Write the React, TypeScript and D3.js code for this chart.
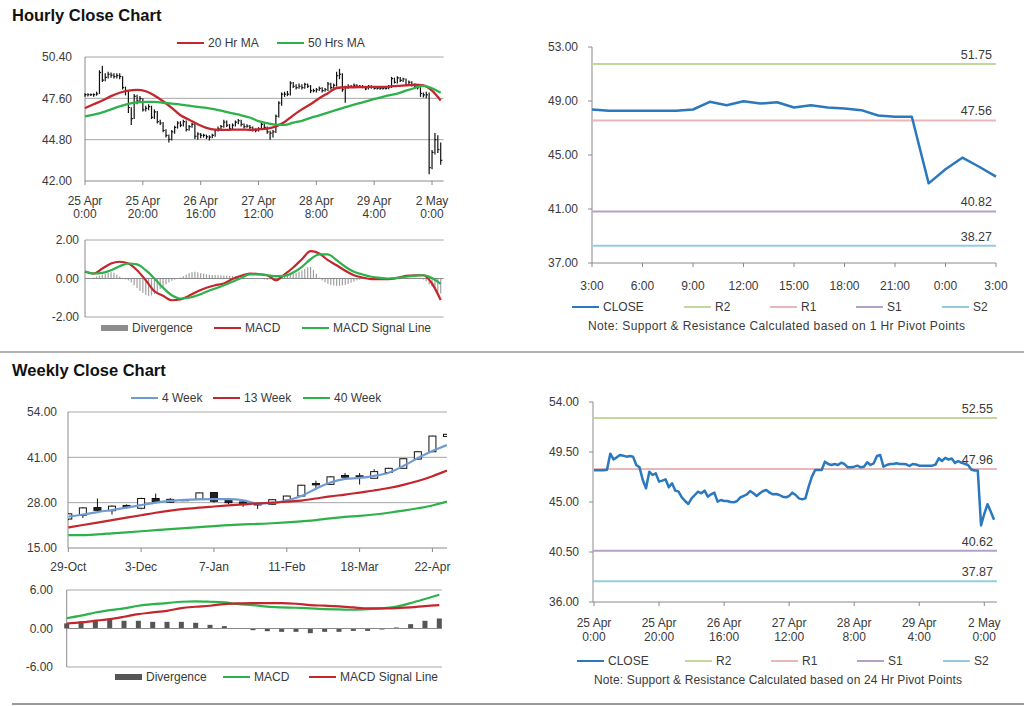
import React from 'react';
import * as d3 from 'd3';

// ---------- Hourly data (index = hour from 25 Apr 0:00) ----------
const hourlyClose = [
  47.85, 47.85, 47.85, 47.85, 47.9, 49.35, 48.84, 49.02, 49.23, 49.17,
  49.08, 49.14, 49.08, 48.33, 48.12, 46.98, 46.23, 47.73, 47.43, 47.58,
  46.83, 46.92, 47.04, 46.32, 46.68, 46.02, 45.93, 45.42, 45.09, 44.82,
  45.33, 45.63, 45.93, 45.78, 46.02, 45.48, 45.69, 45.84, 45.03, 45.18,
  45.09, 45.09, 45.0, 44.97, 45.09, 45.42, 45.54, 45.69, 45.99, 45.78,
  45.54, 45.78, 45.99, 46.08, 45.84, 45.69, 45.72, 45.63, 45.48, 45.42,
  45.54, 45.84, 45.63, 45.33, 45.24, 45.33, 46.38, 47.28, 47.88, 47.88,
  47.88, 48.63, 48.42, 48.33, 48.42, 48.33, 48.54, 48.42, 48.12, 48.12,
  48.18, 48.27, 48.12, 48.18, 48.57, 48.33, 48.48, 49.14, 49.23, 48.18,
  48.33, 48.42, 48.42, 48.48, 48.42, 48.42, 48.39, 48.24, 48.42, 48.37,
  48.27, 48.27, 48.27, 48.27, 48.27, 48.37, 48.94, 48.69, 48.98, 48.81,
  48.91, 48.52, 48.69, 48.52, 48.44, 48.32, 47.93, 47.83, 47.83, 42.9,
  43.94, 44.8, 44.13, 43.4,
];
const hourlyHigh = [
  47.95, 47.95, 47.92, 47.95, 48.05, 49.5, 49.8, 49.3, 49.4, 49.35,
  49.3, 49.3, 49.3, 49.1, 48.4, 48.1, 47.0, 47.9, 47.85, 47.75,
  47.6, 47.1, 47.2, 47.1, 46.85, 46.75, 46.15, 46.0, 45.5, 45.15,
  45.45, 45.75, 46.05, 46.05, 46.15, 46.1, 45.8, 45.95, 45.9, 45.3,
  45.25, 45.2, 45.15, 45.1, 45.2, 45.5, 45.7, 45.8, 46.15, 46.1,
  45.85, 45.9, 46.1, 46.2, 46.15, 45.9, 45.85, 45.8, 45.7, 45.55,
  45.65, 45.95, 45.9, 45.7, 45.4, 45.45, 46.5, 47.4, 48.0, 48.05,
  48.1, 48.75, 48.7, 48.55, 48.6, 48.55, 48.65, 48.6, 48.5, 48.25,
  48.3, 48.4, 48.35, 48.3, 48.7, 48.65, 48.6, 49.4, 49.6, 49.3,
  48.45, 48.55, 48.5, 48.6, 48.55, 48.5, 48.5, 48.45, 48.5, 48.48,
  48.4, 48.35, 48.35, 48.35, 48.38, 48.5, 49.05, 49.0, 49.1, 49.05,
  49.0, 48.95, 48.8, 48.75, 48.6, 48.5, 48.35, 48.0, 48.05, 48.0,
  44.1, 45.25, 45.1, 44.6,
];
const hourlyLow = [
  47.7, 47.72, 47.75, 47.7, 47.78, 47.9, 48.7, 48.75, 48.95, 49.0,
  48.95, 48.95, 48.9, 48.2, 47.8, 46.6, 45.8, 46.2, 47.2, 47.3,
  46.7, 46.7, 46.8, 46.2, 46.2, 45.9, 45.8, 45.3, 44.95, 44.6,
  44.75, 45.2, 45.55, 45.65, 45.7, 45.35, 45.4, 45.6, 44.85, 44.8,
  44.9, 44.95, 44.85, 44.75, 44.9, 45.0, 45.35, 45.5, 45.6, 45.65,
  45.4, 45.45, 45.7, 45.85, 45.7, 45.55, 45.6, 45.5, 45.35, 45.3,
  45.35, 45.45, 45.5, 45.2, 44.8, 44.95, 45.25, 46.3, 47.1, 47.7,
  47.75, 47.8, 48.3, 48.2, 48.25, 48.2, 48.25, 48.3, 47.95, 48.0,
  48.0, 48.1, 48.0, 48.05, 48.1, 48.2, 48.25, 48.4, 48.9, 48.05,
  47.3, 48.25, 48.3, 48.35, 48.3, 48.3, 48.28, 48.15, 48.2, 48.25,
  48.2, 48.2, 48.18, 48.2, 48.2, 48.22, 48.3, 48.6, 48.6, 48.7,
  48.7, 48.45, 48.45, 48.4, 48.35, 48.2, 47.7, 47.65, 47.6, 42.45,
  42.8, 43.8, 43.9, 43.1,
];
// moving averages / MACD sampled every 3 hours (0, 3, ..., 123)
const hourlySampleStep = 3;
const ma20Hr = [
  46.94, 47.2, 47.45, 47.75, 47.98, 48.12, 48.17, 48.08, 47.8, 47.4,
  46.95, 46.45, 46.15, 45.85, 45.6, 45.48, 45.46, 45.48, 45.48, 45.47,
  45.5, 45.55, 45.7, 46.0, 46.45, 46.85, 47.2, 47.6, 47.95, 48.3,
  48.35, 48.35, 48.36, 48.37, 48.38, 48.4, 48.45, 48.48, 48.52, 48.48,
  48.12, 47.45,
];
const ma50Hr = [
  46.37, 46.5, 46.65, 46.85, 47.05, 47.22, 47.33, 47.36, 47.36, 47.3,
  47.24, 47.18, 47.1, 47.02, 46.95, 46.85, 46.72, 46.58, 46.45, 46.3,
  46.05, 45.92, 45.82, 45.8, 45.95, 46.08, 46.28, 46.45, 46.63, 46.82,
  47.0, 47.18, 47.33, 47.5, 47.65, 47.8, 47.92, 48.12, 48.3, 48.45,
  48.28, 47.98,
];
const hourlyMacd = [
  0.35, 0.26, 0.52, 0.78, 0.87, 0.78, 0.43, -0.09, -0.66, -0.9,
  -1.13, -1.09, -0.9, -0.66, -0.48, -0.35, -0.26, -0.03, 0.14, 0.26,
  0.23, 0.17, -0.09, 0.21, 0.57, 1.0, 1.42, 1.3, 0.95, 0.69,
  0.4, 0.17, 0.05, -0.03, -0.03, -0.03, 0.03, 0.14, 0.17, 0.17,
  -0.26, -1.12,
];
const hourlySignal = [
  0.38, 0.26, 0.29, 0.43, 0.64, 0.78, 0.73, 0.43, 0.0, -0.48,
  -0.87, -1.04, -1.0, -0.87, -0.69, -0.52, -0.35, -0.17, 0.03, 0.21,
  0.21, 0.17, 0.12, 0.14, 0.31, 0.61, 1.0, 1.25, 1.25, 0.95,
  0.61, 0.35, 0.21, 0.09, 0.03, 0.0, 0.03, 0.09, 0.14, 0.17,
  0.03, -0.28,
];
const hourlyDivergence = [
  0.02, -0.02, 0.0, 0.05, 0.1, 0.15, 0.2, 0.25, 0.3, 0.33,
  0.3, 0.2, 0.1, 0.02, -0.05, -0.1, -0.2, -0.35, -0.5, -0.65,
  -0.75, -0.85, -0.9, -0.88, -0.8, -0.7, -0.55, -0.42, -0.3, -0.2,
  -0.12, -0.06, -0.02, 0.05, 0.12, 0.2, 0.28, 0.33, 0.35, 0.32,
  0.28, 0.25, 0.22, 0.2, 0.18, 0.18, 0.17, 0.16, 0.15, 0.15,
  0.14, 0.13, 0.12, 0.1, 0.08, 0.06, 0.04, 0.02, -0.02, -0.03,
  -0.02, 0.0, -0.05, -0.08, -0.05, 0.02, 0.05, 0.08, 0.1, 0.12,
  0.15, 0.2, 0.25, 0.3, 0.35, 0.42, 0.5, 0.58, 0.6, 0.45,
  0.25, 0.05, -0.1, -0.2, -0.28, -0.33, -0.36, -0.38, -0.38, -0.36,
  -0.33, -0.28, -0.22, -0.16, -0.1, -0.06, -0.03, -0.02, -0.01, 0.0,
  0.01, 0.01, 0.0, 0.0, 0.01, 0.02, 0.03, 0.04, 0.04, 0.03,
  0.02, 0.01, 0.0, 0.0, 0.0, 0.0, 0.0, -0.05, -0.15, -0.3,
  -0.42, -0.55, -0.68, -0.78,
];
const hourlyTickIndex = [0, 20, 40, 60, 80, 100, 120];
const hourlyTickDay = ['25 Apr', '25 Apr', '26 Apr', '27 Apr', '28 Apr', '29 Apr', '2 May'];
const hourlyTickTime = ['0:00', '20:00', '16:00', '12:00', '8:00', '4:00', '0:00'];
const hourlyPriceTicks = [42.0, 44.8, 47.6, 50.4];
const hourlyMacdTicks = [-2, 0, 2];

// last 24 hours (1 Hr pivot chart)
const lastDayStart = 99;
const lastDayLabels = ['3:00', '6:00', '9:00', '12:00', '15:00', '18:00', '21:00', '0:00', '3:00'];
const lastDayTicks = [37, 41, 45, 49, 53];
const pivotNames = ['R2', 'R1', 'S1', 'S2'];
const pivotColors = ['#c3d69b', '#e6b9b8', '#b3a2c7', '#93cddd'];
const pivot1Hr = [51.75, 47.56, 40.82, 38.27];
const pivot24Hr = [52.55, 47.96, 40.62, 37.87];
const fiveDayTicks = [36, 40.5, 45, 49.5, 54];

// ---------- Weekly data ----------
const weekLabels = ['29-Oct', '3-Dec', '7-Jan', '11-Feb', '18-Mar', '22-Apr'];
const weekLabelIndex = [0, 5, 10, 15, 20, 25];
const weeklyOpen = [23.3, 24.4, 26.6, 25.7, 27.2, 26.4, 29.2, 28.1, 28.85, 29.0, 30.9, 28.6, 28.2, 27.7, 27.55, 28.7, 29.9, 33.5, 33.25, 35.8, 35.7, 35.0, 36.65, 37.85, 40.5, 42.6, 47.0];
const weeklyClose = [24.8, 26.5, 25.8, 27.0, 26.6, 29.2, 28.2, 28.95, 28.9, 30.8, 28.4, 28.0, 27.7, 27.35, 28.85, 29.9, 33.0, 33.1, 35.4, 35.3, 35.3, 36.9, 37.85, 40.6, 42.6, 47.1, 47.6];
const weeklyHigh = [25.0, 26.7, 29.2, 27.2, 27.5, 29.4, 30.6, 29.3, 29.0, 30.9, 31.0, 29.0, 28.6, 27.8, 29.0, 30.0, 33.1, 34.3, 35.5, 36.5, 36.5, 37.6, 38.0, 40.7, 42.7, 47.2, 47.7];
const weeklyLow = [23.0, 23.6, 25.4, 24.6, 26.3, 26.1, 27.9, 28.0, 28.7, 28.9, 28.0, 27.6, 26.8, 26.2, 27.4, 28.6, 29.8, 31.6, 33.1, 34.6, 33.2, 34.9, 36.5, 37.8, 40.4, 42.5, 46.9];
const ma4Week = [24.0, 24.6, 25.3, 25.9, 26.6, 27.3, 28.0, 28.5, 28.8, 28.95, 29.0, 29.0, 28.7, 27.7, 27.9, 28.6, 29.9, 32.0, 33.8, 34.8, 35.1, 35.7, 36.6, 38.5, 40.8, 42.8, 44.5];
const ma13Week = [20.9, 21.6, 22.3, 23.0, 23.7, 24.4, 25.1, 25.7, 26.2, 26.6, 26.9, 27.2, 27.5, 27.8, 28.0, 28.3, 28.6, 29.2, 29.8, 30.3, 30.9, 31.5, 32.2, 33.1, 34.2, 35.6, 37.2];
const ma40Week = [18.7, 18.7, 18.9, 19.2, 19.5, 19.8, 20.1, 20.4, 20.7, 21.0, 21.3, 21.55, 21.8, 21.9, 22.1, 22.35, 22.65, 23.0, 23.5, 23.9, 24.2, 24.6, 25.1, 25.7, 26.4, 27.2, 28.3];
const weeklyMacd = [1.6, 2.0, 2.5, 2.87, 3.13, 3.55, 3.8, 3.96, 4.17, 4.23, 4.17, 4.07, 3.8, 3.65, 3.4, 3.29, 3.23, 3.13, 3.03, 2.97, 2.92, 3.03, 3.13, 3.4, 3.96, 4.6, 5.27];
const weeklySignal = [0.78, 0.94, 1.2, 1.46, 1.83, 2.24, 2.5, 2.76, 3.18, 3.39, 3.55, 3.8, 3.91, 3.96, 3.96, 3.96, 3.86, 3.65, 3.55, 3.44, 3.29, 3.13, 3.13, 3.18, 3.29, 3.5, 3.65];
const weeklyDivergence = [0.8, 1.1, 1.36, 1.46, 1.2, 1.2, 1.04, 1.04, 1.04, 0.89, 0.57, 0.37, 0.05, -0.26, -0.42, -0.52, -0.52, -0.73, -0.52, -0.52, -0.37, -0.37, -0.16, 0.16, 0.68, 1.2, 1.56];
const weeklyPriceTicks = [15, 28, 41, 54];
const weeklyMacdTicks = [-6, 0, 6];

// ---------- styling ----------
const FONT = '"Liberation Sans", Arial, sans-serif';
const TXT = '#3a3a3a';
const GRID = '#a6a6a6';
const AXIS = '#8a8a8a';
const RED = '#c4262e';
const GREEN = '#2db14b';
const BLUE = '#2a78bd';
const LIGHTBLUE = '#6f9bd3';

type LegendItem = { label: string; color: string; x: number; box?: boolean };

function Legend({ items, y }: { items: LegendItem[]; y: number }) {
  return (
    <g>
      {items.map((it, k) => (
        <g key={k}>
          {it.box ? (
            <rect x={it.x} y={y - 3} width={27} height={6} fill={it.color} />
          ) : (
            <line x1={it.x} x2={it.x + 27} y1={y} y2={y} stroke={it.color} strokeWidth={2} />
          )}
          <text x={it.x + 31} y={y} dy="0.35em" fontSize={12} fill={TXT}>{it.label}</text>
        </g>
      ))}
    </g>
  );
}

function YLabels({ ticks, y, x, fmt }: { ticks: number[]; y: d3.ScaleLinear<number, number>; x: number; fmt: (v: number) => string }) {
  return (
    <g>
      {ticks.map((t, k) => (
        <text key={k} x={x} y={y(t)} dy="0.35em" textAnchor="end" fontSize={12} fill={TXT}>{fmt(t)}</text>
      ))}
    </g>
  );
}

const fmt2 = (v: number) => v.toFixed(2);

export default function App() {
  // ---------- Hourly price panel ----------
  const hx = d3.scaleLinear().domain([0, 124]).range([85, 443.6]);
  const hy = d3.scaleLinear().domain([42, 50.4]).range([181, 57]);
  const sampledLine = (yS: d3.ScaleLinear<number, number>, xS: d3.ScaleLinear<number, number>, step: number) =>
    d3.line<number>().x((_, i) => xS(i * step)).y((d) => yS(d)).curve(d3.curveMonotoneX);
  const hMaLine = sampledLine(hy, hx, hourlySampleStep);

  // ---------- Hourly MACD ----------
  const my = d3.scaleLinear().domain([-2, 2]).range([317, 240]);
  const mLine = sampledLine(my, hx, hourlySampleStep);

  // ---------- 1 Hr pivot ----------
  const lastDay = hourlyClose.slice(lastDayStart);
  const p2x = d3.scaleLinear().domain([0, 24]).range([592, 996]);
  const p2y = d3.scaleLinear().domain([37, 53]).range([263, 47]);
  const p2line = d3.line<number>().x((_, i) => p2x(i)).y((d) => p2y(d));

  // ---------- 24 Hr pivot ----------
  const p4x = d3.scaleLinear().domain([0, 124]).range([594, 997.3]);
  const p4y = d3.scaleLinear().domain([36, 54]).range([602, 402]);
  const p4line = d3.line<number>().x((_, i) => p4x(i)).y((d) => p4y(d));

  // ---------- Weekly price ----------
  const wx = d3.scaleLinear().domain([0, 26]).range([68.3, 447]);
  const wy = d3.scaleLinear().domain([15, 54]).range([548, 412]);
  const wLine = d3.line<number>().x((_, i) => wx(i)).y((d) => wy(d)).curve(d3.curveMonotoneX);

  // ---------- Weekly MACD ----------
  const wmx = d3.scaleLinear().domain([0, 26]).range([66.7, 439.3]);
  const wmy = d3.scaleLinear().domain([-6, 6]).range([667, 590]);
  const wmLine = d3.line<number>().x((_, i) => wmx(i)).y((d) => wmy(d)).curve(d3.curveMonotoneX);

  const pivotPanel = (
    yS: d3.ScaleLinear<number, number>,
    levels: number[],
    x0: number,
    x1: number
  ) =>
    levels.map((lv, k) => (
      <g key={k}>
        <line x1={x0} x2={x1} y1={yS(lv)} y2={yS(lv)} stroke={pivotColors[k]} strokeWidth={2} />
        <text x={x1 - 4} y={yS(lv) - 5} textAnchor="end" fontSize={12.5} fill={TXT}>{fmt2(lv)}</text>
      </g>
    ));

  return (
    <svg width={1024} height={706} style={{ position: 'absolute', left: 0, top: 0, display: 'block' }} fontFamily={FONT}>
      <rect width={1024} height={706} fill="#ffffff" />
      <defs>
        <clipPath id="wclip"><rect x={68} y={400} width={379} height={160} /></clipPath>
      </defs>

      {/* Titles & separators */}
      <text x={12} y={21} fontSize={16.5} fontWeight="bold" fill="#111">Hourly Close Chart</text>
      <text x={12} y={376} fontSize={16.5} fontWeight="bold" fill="#111">Weekly Close Chart</text>
      <line x1={0} x2={1024} y1={352} y2={352} stroke="#9a9a9a" strokeWidth={1.5} />
      <line x1={12} x2={1024} y1={704} y2={704} stroke="#9a9a9a" strokeWidth={2} />

      {/* ===== Panel 1: hourly price ===== */}
      <Legend y={43} items={[{ label: '20 Hr MA', color: RED, x: 177 }, { label: '50 Hrs MA', color: GREEN, x: 277 }]} />
      {hourlyPriceTicks.slice(1).map((t, k) => (
        <line key={k} x1={85} x2={443.6} y1={hy(t)} y2={hy(t)} stroke={GRID} strokeWidth={1} />
      ))}
      <line x1={85} x2={85} y1={57} y2={181} stroke={AXIS} />
      <line x1={85} x2={443.6} y1={181} y2={181} stroke={AXIS} />
      {hourlyTickIndex.map((t, k) => (
        <g key={k}>
          <line x1={hx(t)} x2={hx(t)} y1={181} y2={185} stroke={AXIS} />
          <text x={hx(t)} y={205} textAnchor="middle" fontSize={12} fill={TXT}>{hourlyTickDay[k]}</text>
          <text x={hx(t)} y={218} textAnchor="middle" fontSize={12} fill={TXT}>{hourlyTickTime[k]}</text>
        </g>
      ))}
      <YLabels ticks={hourlyPriceTicks} y={hy} x={72} fmt={fmt2} />
      {hourlyClose.map((c, i) => (
        <g key={i} stroke="#111" strokeWidth={1.2}>
          <line x1={hx(i)} x2={hx(i)} y1={hy(hourlyHigh[i])} y2={hy(hourlyLow[i])} />
          <line x1={hx(i)} x2={hx(i) + 1.6} y1={hy(c)} y2={hy(c)} />
        </g>
      ))}
      <path d={hMaLine(ma20Hr) || ''} fill="none" stroke={RED} strokeWidth={2.3} />
      <path d={hMaLine(ma50Hr) || ''} fill="none" stroke={GREEN} strokeWidth={2.3} />

      {/* ===== Hourly MACD ===== */}
      <line x1={85} x2={443.6} y1={my(2)} y2={my(2)} stroke={GRID} />
      <line x1={85} x2={443.6} y1={my(-2)} y2={my(-2)} stroke={GRID} />
      <line x1={85} x2={85} y1={my(2)} y2={my(-2)} stroke={AXIS} />
      {hourlyDivergence.map((d, i) => (
        <rect key={i} x={hx(i) - 0.6} width={1.2} y={Math.min(my(0), my(d))} height={Math.abs(my(d) - my(0))} fill="#a0a0a0" />
      ))}
      <line x1={85} x2={443.6} y1={my(0)} y2={my(0)} stroke={AXIS} />
      <path d={mLine(hourlyMacd) || ''} fill="none" stroke={RED} strokeWidth={2.2} />
      <path d={mLine(hourlySignal) || ''} fill="none" stroke={GREEN} strokeWidth={2.2} />
      <YLabels ticks={hourlyMacdTicks} y={my} x={79} fmt={fmt2} />
      <Legend y={328} items={[
        { label: 'Divergence', color: '#8c8c8c', x: 101, box: true },
        { label: 'MACD', color: RED, x: 214 },
        { label: 'MACD Signal Line', color: GREEN, x: 302 },
      ]} />

      {/* ===== Panel 2: 1 Hr pivot ===== */}
      <line x1={592} x2={592} y1={47} y2={263} stroke={AXIS} />
      {lastDayTicks.map((t, k) => (
        <line key={k} x1={588} x2={592} y1={p2y(t)} y2={p2y(t)} stroke={AXIS} />
      ))}
      {pivotPanel(p2y, pivot1Hr, 592, 996)}
      <line x1={592} x2={996} y1={263} y2={263} stroke={AXIS} />
      {lastDayLabels.map((l, k) => (
        <g key={k}>
          <line x1={p2x(k * 3)} x2={p2x(k * 3)} y1={263} y2={267} stroke={AXIS} />
          <text x={p2x(k * 3)} y={290} textAnchor="middle" fontSize={12} fill={TXT}>{l}</text>
        </g>
      ))}
      <YLabels ticks={lastDayTicks} y={p2y} x={578} fmt={fmt2} />
      <path d={p2line(lastDay) || ''} fill="none" stroke={BLUE} strokeWidth={2.5} strokeLinejoin="round" />
      <Legend y={307} items={[
        { label: 'CLOSE', color: BLUE, x: 572 },
        ...pivotNames.map((n, k) => ({ label: n, color: pivotColors[k], x: 684 + k * 86 })),
      ]} />
      <text x={588} y={330} fontSize={12} fill={TXT} textLength={377} lengthAdjust="spacing">Note: Support &amp; Resistance Calculated based on 1 Hr Pivot Points</text>

      {/* ===== Panel 3: weekly price ===== */}
      <Legend y={398} items={[
        { label: '4 Week', color: LIGHTBLUE, x: 131 },
        { label: '13 Week', color: RED, x: 213 },
        { label: '40 Week', color: GREEN, x: 303 },
      ]} />
      {weeklyPriceTicks.slice(1).map((t, k) => (
        <line key={k} x1={68} x2={447} y1={wy(t)} y2={wy(t)} stroke={GRID} />
      ))}
      <line x1={68} x2={68} y1={412} y2={548} stroke={AXIS} />
      <line x1={68} x2={447} y1={548} y2={548} stroke={AXIS} />
      {weekLabelIndex.map((t, k) => (
        <g key={k}>
          <line x1={wx(t)} x2={wx(t)} y1={548} y2={552} stroke={AXIS} />
          <text x={wx(t)} y={571} textAnchor="middle" fontSize={12} fill={TXT}>{weekLabels[k]}</text>
        </g>
      ))}
      <YLabels ticks={weeklyPriceTicks} y={wy} x={57} fmt={fmt2} />
      <g clipPath="url(#wclip)">
        {weeklyClose.map((c, i) => {
          const o = weeklyOpen[i];
          const up = c >= o;
          const top = wy(Math.max(o, c));
          const h = Math.max(1.2, Math.abs(wy(o) - wy(c)));
          return (
            <g key={i}>
              <line x1={wx(i)} x2={wx(i)} y1={wy(weeklyHigh[i])} y2={wy(weeklyLow[i])} stroke="#111" strokeWidth={1} />
              <rect x={wx(i) - 3.5} y={top} width={7} height={h} fill={up ? '#fff' : '#222'} stroke="#111" strokeWidth={1} />
            </g>
          );
        })}
        <path d={wLine(ma4Week) || ''} fill="none" stroke={LIGHTBLUE} strokeWidth={2.2} />
        <path d={wLine(ma13Week) || ''} fill="none" stroke={RED} strokeWidth={2.2} />
        <path d={wLine(ma40Week) || ''} fill="none" stroke={GREEN} strokeWidth={2.2} />
      </g>

      {/* ===== Weekly MACD ===== */}
      <line x1={66.7} x2={442} y1={wmy(6)} y2={wmy(6)} stroke={GRID} />
      <line x1={66.7} x2={442} y1={wmy(-6)} y2={wmy(-6)} stroke={GRID} />
      <line x1={66.7} x2={66.7} y1={wmy(6)} y2={wmy(-6)} stroke={AXIS} />
      {weeklyDivergence.map((d, i) => (
        <rect key={i} x={wmx(i) - 2.5} width={5} y={Math.min(wmy(0), wmy(d))} height={Math.abs(wmy(d) - wmy(0))} fill="#555" />
      ))}
      <line x1={66.7} x2={442} y1={wmy(0)} y2={wmy(0)} stroke={AXIS} />
      <path d={wmLine(weeklyMacd) || ''} fill="none" stroke={GREEN} strokeWidth={2.2} />
      <path d={wmLine(weeklySignal) || ''} fill="none" stroke={RED} strokeWidth={2.2} />
      <YLabels ticks={weeklyMacdTicks} y={wmy} x={53} fmt={fmt2} />
      <Legend y={677} items={[
        { label: 'Divergence', color: '#555', x: 115, box: true },
        { label: 'MACD', color: GREEN, x: 223 },
        { label: 'MACD Signal Line', color: RED, x: 309 },
      ]} />

      {/* ===== Panel 4: 24 Hr pivot ===== */}
      <line x1={593} x2={593} y1={402} y2={602} stroke={AXIS} />
      {fiveDayTicks.map((t, k) => (
        <line key={k} x1={589} x2={593} y1={p4y(t)} y2={p4y(t)} stroke={AXIS} />
      ))}
      {pivotPanel(p4y, pivot24Hr, 593, 997)}
      <line x1={593} x2={997} y1={602} y2={602} stroke={AXIS} />
      {hourlyTickIndex.map((t, k) => (
        <g key={k}>
          <line x1={p4x(t)} x2={p4x(t)} y1={602} y2={606} stroke={AXIS} />
          <text x={p4x(t)} y={627} textAnchor="middle" fontSize={12} fill={TXT}>{hourlyTickDay[k]}</text>
          <text x={p4x(t)} y={641} textAnchor="middle" fontSize={12} fill={TXT}>{hourlyTickTime[k]}</text>
        </g>
      ))}
      <YLabels ticks={fiveDayTicks} y={p4y} x={579} fmt={fmt2} />
      <path d={p4line(hourlyClose) || ''} fill="none" stroke={BLUE} strokeWidth={2.5} strokeLinejoin="round" />
      <Legend y={661} items={[
        { label: 'CLOSE', color: BLUE, x: 577 },
        ...pivotNames.map((n, k) => ({ label: n, color: pivotColors[k], x: 685 + k * 86 })),
      ]} />
      <text x={594} y={684} fontSize={12} fill={TXT} textLength={368} lengthAdjust="spacing">Note: Support &amp; Resistance Calculated based on 24 Hr Pivot Points</text>
    </svg>
  );
}
